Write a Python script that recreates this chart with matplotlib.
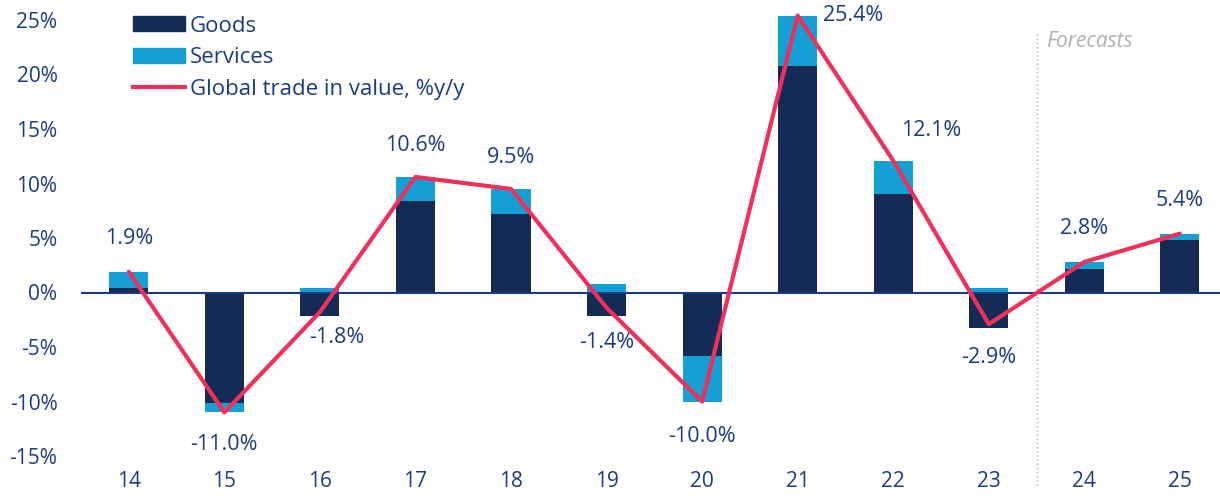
import matplotlib
matplotlib.use("Agg")
import matplotlib.pyplot as plt
import numpy as np
from matplotlib.patches import Patch
from matplotlib.lines import Line2D

plt.rcParams['font.family'] = ['Open Sans', 'DejaVu Sans']

# data
years = ["14", "15", "16", "17", "18", "19", "20", "21", "22", "23", "24", "25"]
goods = [0.45, -10.1, -2.2, 8.4, 7.2, -2.2, -5.8, 20.8, 9.0, -3.3, 2.2, 4.8]
services = [1.45, -0.9, 0.4, 2.2, 2.3, 0.8, -4.2, 4.6, 3.1, 0.4, 0.6, 0.6]
total = [1.9, -11.0, -1.8, 10.6, 9.5, -1.4, -10.0, 25.4, 12.1, -2.9, 2.8, 5.4]
# label offsets (points) for each line value
label_dx = [0, 0, 12, 0, 0, 0, 0, 40, 27, 0, 0, 0]
label_dy = [24, -23, -18, 23, 23, -25, -25, 0, 22, -24, 24, 24]

navy = "#142B55"
blue = "#14A0D5"
pink = "#F0305A"
txt = "#1B3D80"

fig = plt.figure(figsize=(12.2, 4.99), dpi=100)
ax = fig.add_axes([81 / 1220, 1 - 456 / 499, 1 - 81 / 1220, 436 / 499])

x = np.arange(len(years))
w = 0.41
ax.bar(x, goods, w, color=navy, zorder=2, clip_on=False)
# services stack on goods when same sign, else start from zero
svc_bottom = [g if (g > 0) == (s > 0) else 0 for g, s in zip(goods, services)]
ax.bar(x, services, w, bottom=svc_bottom, color=blue, zorder=2, clip_on=False)
ax.axhline(0, color=txt, lw=1.5, zorder=3)
ax.plot(x, total, color=pink, lw=3, zorder=4, solid_capstyle='round', clip_on=False)

for i in range(len(x)):
    ax.annotate(f"{total[i]:.1f}%", (x[i], total[i]), xytext=(label_dx[i], label_dy[i]),
                textcoords='offset points', ha='center', va='center', fontsize=15.5,
                color=txt, annotation_clip=False)

# forecast separator between 23 and 24
ax.plot([9.5, 9.5], [23.7, -17.9], ls=(0, (1, 2)), color="#AAAAAA", lw=1, clip_on=False)
ax.text(9.6, 23.0, "Forecasts", fontsize=15, style='italic', color="#B0B0B0", va='center', ha='left')

ax.set_xlim(-0.5, 11.42)
ax.set_ylim(-15, 25)
ax.set_yticks(range(-15, 26, 5))
ax.set_yticklabels([f"{v}%" for v in range(-15, 26, 5)])
ax.set_xticks(x)
ax.set_xticklabels(years)
ax.tick_params(axis='both', length=0, labelsize=15, labelcolor=txt)
ax.tick_params(axis='y', pad=17)
ax.tick_params(axis='x', pad=11)
for s in ax.spines.values():
    s.set_visible(False)

handles = [Patch(color=navy, label="Goods"),
           Patch(color=blue, label="Services"),
           Line2D([], [], color=pink, lw=3, label="Global trade in value, %y/y")]
leg = ax.legend(handles=handles, loc='upper left', bbox_to_anchor=(133 / 1220, 1 - 15.5 / 499),
                bbox_transform=fig.transFigure, frameon=False, fontsize=16,
                handlelength=2.34, handleheight=0.63, handletextpad=0.22, labelspacing=0.48,
                borderaxespad=0, borderpad=0)
for t in leg.get_texts():
    t.set_color(txt)

fig.savefig("out.png", dpi=100)
